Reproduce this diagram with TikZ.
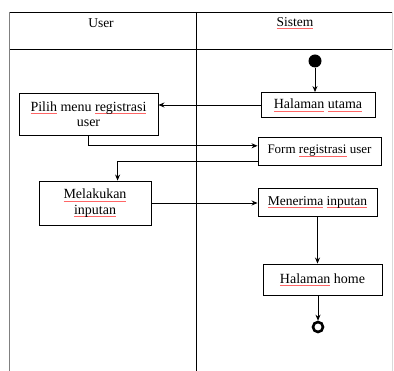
\documentclass[tikz,border=0pt]{standalone}
\usepackage{fontspec}
\setmainfont{Liberation Serif}
\usetikzlibrary{arrows.meta,calc}
\newcommand\spl[1]{\setbox0\hbox{#1}\rlap{\textcolor{red!60}{\rule[-2.6pt]{\wd0}{0.5pt}}}\box0\relax}
\begin{document}
\begin{tikzpicture}[x=1pt,y=-1pt,
  box/.style={draw,line width=0.9pt,inner sep=2pt,align=center,font=\fontsize{14}{15.5}\selectfont},
  arr/.style={-{Stealth[length=6pt,width=5pt]},line width=0.8pt},
  lane/.style={line width=0.8pt}]
\useasboundingbox (0,0) rectangle (394,371);
% swimlanes
\draw[lane] (9,12) -- (392,12);
\draw[lane] (9,49) -- (392,49);
\draw[lane,gray] (9,12) -- (9,371);
\draw[lane] (196,12) -- (196,371);
\draw[lane,gray!30] (392,12) -- (392,371);
\node[font=\fontsize{13.5}{15}\selectfont] (luser) at (101,23) {User};
\node[font=\fontsize{13.5}{15}\selectfont] (lsis) at (295,23) {\spl{Sistem}};
% nodes
\node[circle,fill,minimum width=11pt,minimum height=13pt,inner sep=0] (start) at (315,61) {};
\node[box,minimum width=114pt,minimum height=25pt] (hu) at (318,105) {\spl{Halaman} \spl{utama}};
\node[box,minimum width=139pt,minimum height=42pt] (pilih) at (88.5,114) {\spl{Pilih} menu \spl{registrasi}\\user};
\node[box,minimum width=123pt,minimum height=28pt,font=\fontsize{13}{15}\selectfont] (form) at (319.5,151) {Form \spl{registrasi} user};
\node[box,minimum width=112pt,minimum height=44pt] (mel) at (95,203) {\spl{Melakukan}\\\spl{inputan}};
\node[box,minimum width=119pt,minimum height=28pt,font=\fontsize{13.5}{15}\selectfont] (men) at (317.5,202) {\spl{Menerima} \spl{inputan}};
\node[box,minimum width=119pt,minimum height=31pt] (home) at (322.5,279.5) {\spl{Halaman} home};
\node[circle,draw,line width=2.6pt,minimum size=10pt,inner sep=0] (end) at (318,327) {};
% connectors
\draw[arr] (start) -- (start |- hu.north);
\draw[arr] (hu.west) -- (hu.west -| pilih.east);
\coordinate (fin) at ($(form.south west)!0.68!(form.north west)$);
\draw[arr] (pilih.south) |- (fin);
\coordinate (fout) at ($(form.south west)!0.15!(form.north west)$);
\coordinate (min) at ($(mel.north west)!0.7!(mel.north east)$);
\draw[arr] (fout) -| (min);
\draw[arr] (mel.east) -- (mel.east -| men.west);
\draw[arr] (men.south) -- (men.south |- home.north);
\draw[arr] (end |- home.south) -- (end.north);
\end{tikzpicture}
\end{document}
